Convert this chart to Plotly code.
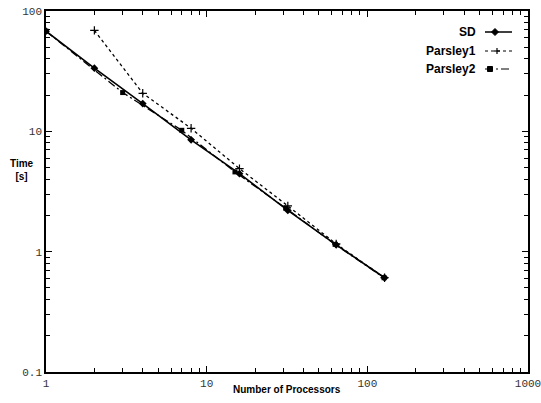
import plotly.graph_objects as go

# Data
sd_x = [1, 2, 4, 8, 16, 32, 64, 128]
sd_y = [68, 33.5, 17.0, 8.5, 4.45, 2.2, 1.14, 0.607]

p1_x = [2, 4, 8, 16, 32, 64, 128]
p1_y = [69, 20.7, 10.6, 4.9, 2.4, 1.16, 0.607]

p2_x = [1, 3, 7, 15, 31, 63, 127]
p2_y = [68, 21.0, 10.2, 4.6, 2.3, 1.15, 0.607]

x_minor = [m * 10 ** e for e in range(0, 3) for m in range(2, 10)]
y_minor = [m * 10 ** e for e in range(-1, 2) for m in range(2, 10)]

fig = go.Figure()
fig.add_trace(go.Scatter(x=sd_x, y=sd_y, mode="lines+markers", name="SD",
                         line=dict(color="black", width=1.6),
                         marker=dict(symbol="diamond", size=6, color="black")))
fig.add_trace(go.Scatter(x=p1_x, y=p1_y, mode="lines+markers", name="Parsley1",
                         line=dict(color="black", width=1.3, dash="3px,3px"),
                         marker=dict(symbol="cross-thin", size=6, color="black",
                                     line=dict(color="black", width=1.2))))
fig.add_trace(go.Scatter(x=p2_x, y=p2_y, mode="lines+markers", name="Parsley2",
                         line=dict(color="black", width=1.3, dash="8px,3px,2px,3px"),
                         marker=dict(symbol="square", size=5, color="black")))

tickfont = dict(family="Liberation Mono", size=11, color="#333")

def axis(rng, minor_vals):
    return dict(type="log", range=rng, showgrid=False, zeroline=False, showline=True,
                linecolor="black", linewidth=1.5, mirror="allticks",
                tickmode="linear", tick0=0, dtick=1, exponentformat="none",
                ticks="inside", ticklen=6, tickcolor="black", tickwidth=1.3,
                tickfont=tickfont, ticklabeloverflow="allow", automargin=False,
                minor=dict(ticks="inside", ticklen=4, tickcolor="black",
                           tickwidth=1.2, tickmode="array", tickvals=minor_vals))

fig.update_layout(
    width=541, height=403,
    margin=dict(l=46, r=13, t=11, b=31),
    plot_bgcolor="white", paper_bgcolor="white",
    showlegend=False,
    xaxis=axis([0, 3], x_minor),
    yaxis=axis([-1, 2], y_minor),
)

# Axis titles
fig.add_annotation(text="<b>Number of Processors</b>", xref="paper", yref="paper",
                   x=0.5, y=0, yshift=-25, showarrow=False, xanchor="center",
                   font=dict(family="Liberation Sans", size=10, color="black"))
fig.add_annotation(text="<b>Time<br>[s]</b>", xref="paper", yref="paper",
                   x=0, xshift=-24, y=0.56, showarrow=False, align="center",
                   xanchor="center", yanchor="middle",
                   font=dict(family="Liberation Sans", size=10, color="black"))

# Legend drawn manually (text on left, sample on right)
leg_names = ["SD", "Parsley1", "Parsley2"]
leg_y = [32, 51, 69]  # pixel y from top
pl, pr, pt, pb = 46, 528, 11, 372

def px2paper(px, py):
    return (px - pl) / (pr - pl), 1 - (py - pt) / (pb - pt)

for name, py in zip(leg_names, leg_y):
    xr, yy = px2paper(478, py)
    fig.add_annotation(text="<b>" + name + "</b>", xref="paper", yref="paper",
                       x=xr, y=yy, xanchor="right", yanchor="middle", showarrow=False,
                       font=dict(family="Liberation Sans", size=12, color="black"))

def line_shape(x0, x1, py, dash, width):
    a0, b = px2paper(x0, py)
    a1, _ = px2paper(x1, py)
    fig.add_shape(type="line", xref="paper", yref="paper", x0=a0, x1=a1, y0=b, y1=b,
                  line=dict(color="black", width=width, dash=dash))

line_shape(485, 512, leg_y[0], "solid", 1.5)
line_shape(485, 512, leg_y[1], "3px,3px", 1.2)
line_shape(485, 512, leg_y[2], "8px,3px,2px,3px", 1.2)

# legend markers
cx, cy = 495, leg_y[0]
pts = [(cx, cy - 3.5), (cx + 3.5, cy), (cx, cy + 3.5), (cx - 3.5, cy)]
pp = [px2paper(a, b) for a, b in pts]
path = "M " + " L ".join(f"{a},{b}" for a, b in pp) + " Z"
fig.add_shape(type="path", xref="paper", yref="paper", path=path,
              fillcolor="black", line=dict(color="black", width=1))
cx, cy = 497, leg_y[1]
for (x0, y0, x1, y1) in [(cx - 3, cy, cx + 3, cy), (cx, cy - 3, cx, cy + 3)]:
    a0, b0 = px2paper(x0, y0)
    a1, b1 = px2paper(x1, y1)
    fig.add_shape(type="line", xref="paper", yref="paper", x0=a0, y0=b0, x1=a1, y1=b1,
                  line=dict(color="black", width=1.2))
cx, cy = 490, leg_y[2]
a0, b0 = px2paper(cx - 2.5, cy - 2.5)
a1, b1 = px2paper(cx + 2.5, cy + 2.5)
fig.add_shape(type="rect", xref="paper", yref="paper", x0=a0, y0=b0, x1=a1, y1=b1,
              fillcolor="black", line=dict(color="black", width=1))

fig.write_html("out.html")
